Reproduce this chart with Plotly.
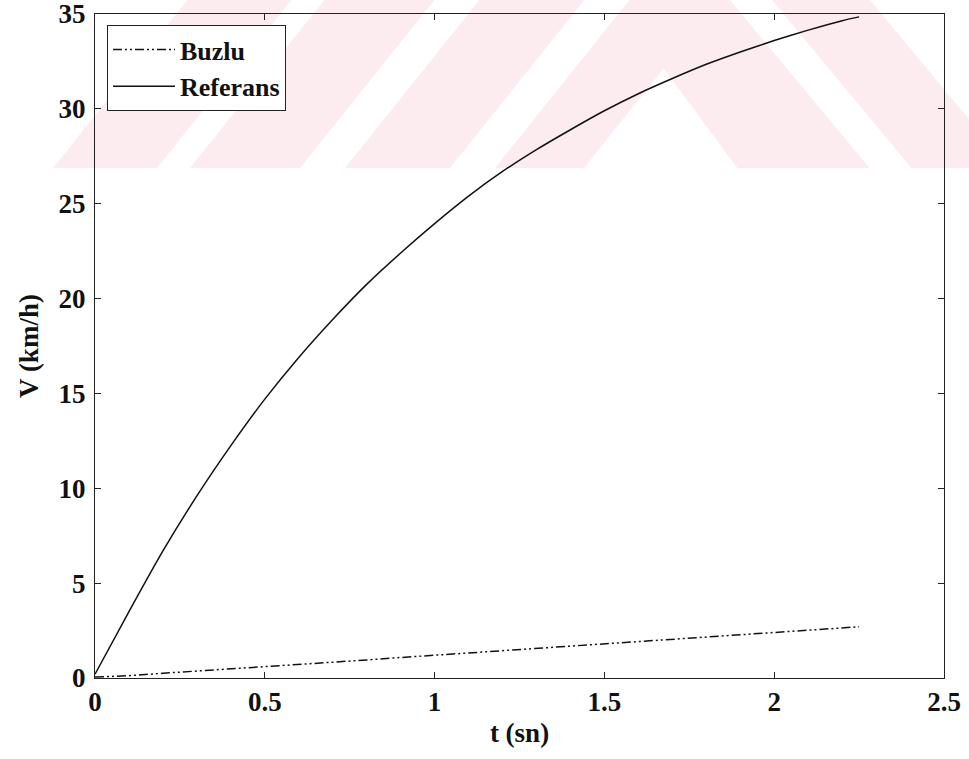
import plotly.graph_objects as go

# ---- data -------------------------------------------------------------
t_sn = [0.0, 0.1, 0.2, 0.3, 0.4, 0.5, 0.6, 0.7, 0.8, 0.9, 1.0, 1.1,
        1.2, 1.3, 1.4, 1.5, 1.6, 1.7, 1.8, 1.9, 2.0, 2.1, 2.2, 2.25]

v_buzlu = [0.05, 0.12, 0.25, 0.36, 0.47, 0.58, 0.70, 0.82, 0.95, 1.08,
           1.20, 1.33, 1.45, 1.57, 1.70, 1.82, 1.95, 2.07, 2.18, 2.30,
           2.42, 2.53, 2.65, 2.70]

v_referans = [0.2, 3.5, 6.7, 9.6, 12.25, 14.7, 16.9, 18.9, 20.75, 22.4,
              23.95, 25.4, 26.7, 27.85, 28.9, 29.9, 30.8, 31.6, 32.35, 33.0,
              33.6, 34.15, 34.65, 34.85]

x_ticks = [0, 0.5, 1, 1.5, 2, 2.5]
x_tick_text = ["0", "0.5", "1", "1.5", "2", "2.5"]
y_ticks = [0, 5, 10, 15, 20, 25, 30, 35]

# ---- page geometry ----------------------------------------------------
W, H = 969, 759
ML, MR, MT, MB = 95, 25, 14, 81
PW, PH = W - ML - MR, H - MT - MB

FONT = "Liberation Serif"
INK = "#111111"


def px_to_paper(x, y):
    return (x - ML) / PW, (H - MB - y) / PH


def poly_path(points):
    pts = [px_to_paper(x, y) for x, y in points]
    return "M " + " L ".join(f"{a:.5f},{b:.5f}" for a, b in pts) + " Z"


# ---- background stripe watermark (page pixels) ------------------------
BAND = 168          # bottom of the striped band
SL = 0.8            # horizontal run per pixel of rise for "/" edges


def slash(b, y):
    return b + SL * (BAND - y)


def slash_band(b0, b1):
    return [(b0, BAND), (b1, BAND), (slash(b1, 0), 0), (slash(b0, 0), 0)]


def back(t0, r, y):
    return t0 + r * y


apex_y = (slash(584, 0) - 613) / (0.74 + SL)
apex_x = back(613, 0.74, apex_y)

stripes = [
    slash_band(53, 157),
    slash_band(190, 300),
    slash_band(345, 450),
    [(495, BAND), (584, BAND), (apex_x, apex_y), (back(613, 0.74, BAND), BAND),
     (back(730, 0.83, BAND), BAND), (730, 0), (slash(495, 0), 0)],
    [(772, 0), (870, 0), (back(870, 0.83, BAND), BAND), (back(772, 0.83, BAND), BAND)],
]

shapes = [
    dict(type="path", xref="paper", yref="paper", path=poly_path(p),
         fillcolor="rgb(253,236,239)", line=dict(width=0), layer="below")
    for p in stripes
]

# ---- figure -----------------------------------------------------------
fig = go.Figure()

fig.add_trace(go.Scatter(
    x=t_sn, y=v_buzlu, mode="lines", name="Buzlu",
    line=dict(color=INK, width=1.5, dash="9px,3px,2px,3px,2px,3px"),
))
fig.add_trace(go.Scatter(
    x=t_sn, y=v_referans, mode="lines", name="Referans",
    line=dict(color=INK, width=1.5, shape="spline", smoothing=0.6),
))

axis_common = dict(
    showline=True, mirror="ticks", linecolor="#222222", linewidth=1,
    ticks="inside", ticklen=6, tickwidth=1, tickcolor="#222222",
    showgrid=False, zeroline=False,
    tickfont=dict(family=FONT, size=27, color=INK, weight="bold"),
    title_font=dict(family=FONT, size=27, color=INK, weight="bold"),
)

fig.update_xaxes(
    range=[0, 2.5], tickvals=x_ticks, ticktext=x_tick_text,
    title_text="t (sn)", title_standoff=6, ticklabelstandoff=0,
    **axis_common,
)
fig.update_yaxes(
    range=[0, 35.001], tickvals=y_ticks,
    title_text="V (km/h)", title_standoff=12, ticklabelstandoff=3,
    ticklabeloverflow="allow",
    **axis_common,
)

fig.update_layout(
    width=W, height=H,
    margin=dict(l=ML, r=MR, t=MT, b=MB, autoexpand=False),
    paper_bgcolor="white",
    plot_bgcolor="rgba(0,0,0,0)",
    shapes=shapes,
    showlegend=True,
    legend=dict(
        x=(107 - ML) / PW, y=px_to_paper(0, 25)[1],
        xanchor="left", yanchor="top",
        bgcolor="white", bordercolor="#222222", borderwidth=1,
        font=dict(family=FONT, size=26, color=INK, weight="bold"),
        tracegroupgap=0, itemwidth=62,
    ),
)

fig.write_html("out.html")
